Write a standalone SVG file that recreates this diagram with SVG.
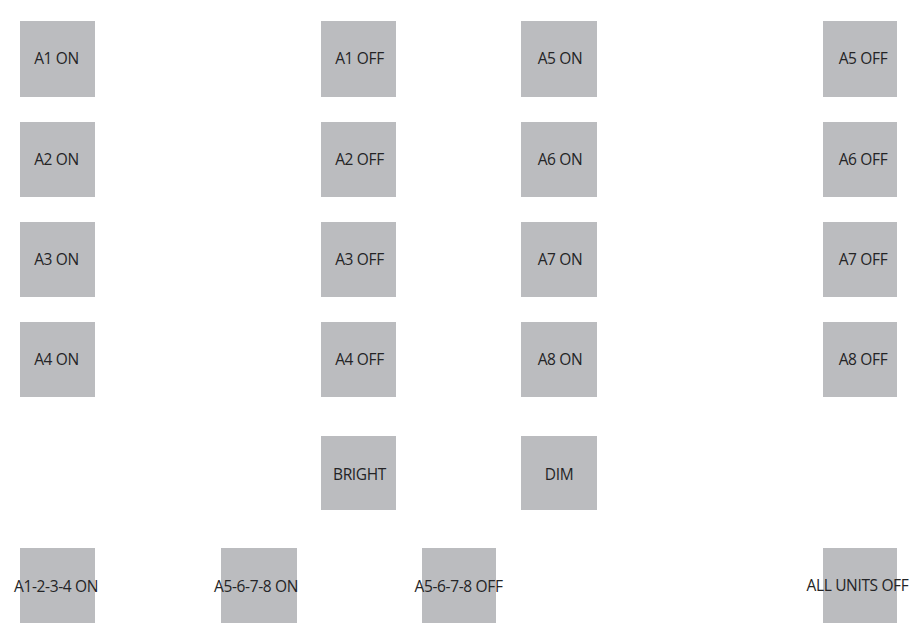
<svg xmlns="http://www.w3.org/2000/svg" width="914" height="634" viewBox="0 0 914 634">
<style>
.b{fill:#bbbcbf}
.t{font-family:"Open Sans","Liberation Sans",sans-serif;font-size:15.5px;fill:#242426;text-anchor:middle;letter-spacing:-0.35px}
</style>
<rect width="914" height="634" fill="#ffffff"/>
<g id="a1on"><rect class="b" x="20" y="21" width="75" height="76"/><text class="t" x="56.5" y="64">A1 ON</text></g>
<g id="a2on"><rect class="b" x="20" y="122" width="75" height="75"/><text class="t" x="56.5" y="165">A2 ON</text></g>
<g id="a3on"><rect class="b" x="20" y="222" width="75" height="75"/><text class="t" x="56.5" y="265">A3 ON</text></g>
<g id="a4on"><rect class="b" x="20" y="322" width="75" height="75"/><text class="t" x="56.5" y="365">A4 ON</text></g>
<g id="a1off"><rect class="b" x="321" y="21" width="75" height="76"/><text class="t" x="359.5" y="64">A1 OFF</text></g>
<g id="a2off"><rect class="b" x="321" y="122" width="75" height="75"/><text class="t" x="359.5" y="165">A2 OFF</text></g>
<g id="a3off"><rect class="b" x="321" y="222" width="75" height="75"/><text class="t" x="359.5" y="265">A3 OFF</text></g>
<g id="a4off"><rect class="b" x="321" y="322" width="75" height="75"/><text class="t" x="359.5" y="365">A4 OFF</text></g>
<g id="a5on"><rect class="b" x="521" y="21" width="76" height="76"/><text class="t" x="560" y="64">A5 ON</text></g>
<g id="a6on"><rect class="b" x="521" y="122" width="76" height="75"/><text class="t" x="560" y="165">A6 ON</text></g>
<g id="a7on"><rect class="b" x="521" y="222" width="76" height="75"/><text class="t" x="560" y="265">A7 ON</text></g>
<g id="a8on"><rect class="b" x="521" y="322" width="76" height="75"/><text class="t" x="560" y="365">A8 ON</text></g>
<g id="a5off"><rect class="b" x="823" y="21" width="74" height="76"/><text class="t" x="863" y="64">A5 OFF</text></g>
<g id="a6off"><rect class="b" x="823" y="122" width="74" height="75"/><text class="t" x="863" y="165">A6 OFF</text></g>
<g id="a7off"><rect class="b" x="823" y="222" width="74" height="75"/><text class="t" x="863" y="265">A7 OFF</text></g>
<g id="a8off"><rect class="b" x="823" y="322" width="74" height="75"/><text class="t" x="863" y="365">A8 OFF</text></g>
<g id="bright"><rect class="b" x="321" y="436" width="75" height="74"/><text class="t" x="359.5" y="479.5">BRIGHT</text></g>
<g id="dim"><rect class="b" x="521" y="436" width="76" height="74"/><text class="t" x="559" y="479.5">DIM</text></g>
<g id="a1234on"><rect class="b" x="20" y="548" width="75" height="75"/><text class="t" x="56" y="591.5">A1-2-3-4 ON</text></g>
<g id="a5678on"><rect class="b" x="221" y="548" width="76" height="75"/><text class="t" x="256" y="591.5">A5-6-7-8 ON</text></g>
<g id="a5678off"><rect class="b" x="422" y="548" width="74" height="75"/><text class="t" x="458.5" y="591.5">A5-6-7-8 OFF</text></g>
<g id="alloff"><rect class="b" x="823" y="548" width="74" height="75"/><text class="t" x="857.5" y="591">ALL UNITS OFF</text></g>
<g id="connectors"></g>
</svg>
